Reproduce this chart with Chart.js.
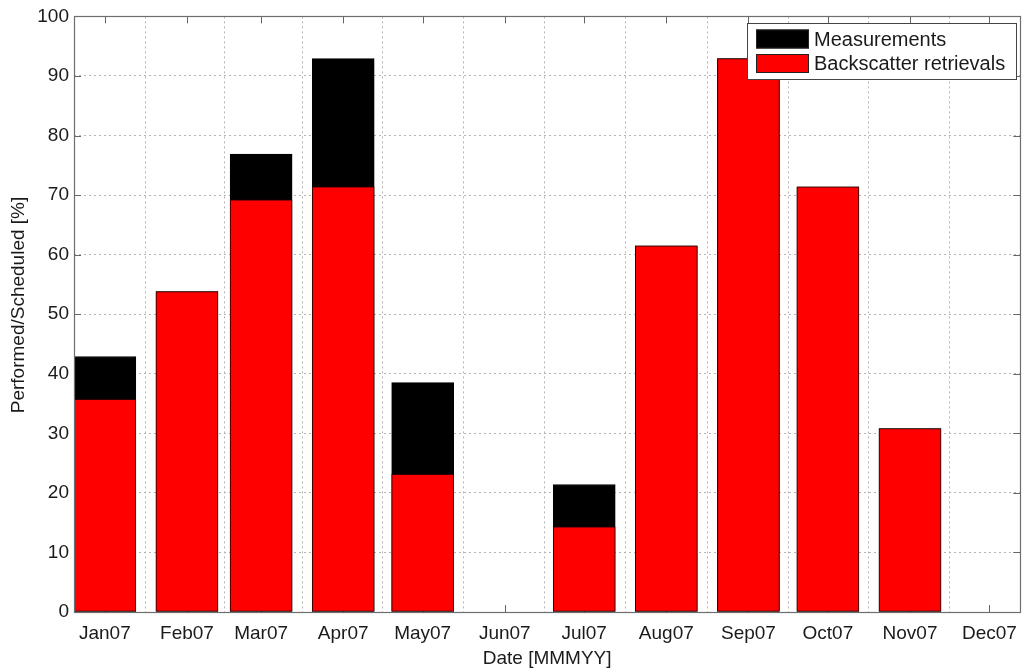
<!DOCTYPE html>
<html>
<head>
<meta charset="utf-8">
<script src="https://cdn.jsdelivr.net/npm/chart.js@4.4.1/dist/chart.umd.min.js"></script>
<style>
  html, body { margin: 0; padding: 0; background: #fff; }
  #wrap { width: 1027px; height: 670px; }
</style>
</head>
<body>
<div id="wrap"><canvas id="perfChart" width="1027" height="670"></canvas></div>
<script>
// ===== DATA =====
const months = ['Jan07', 'Feb07', 'Mar07', 'Apr07', 'May07', 'Jun07', 'Jul07', 'Aug07', 'Sep07', 'Oct07', 'Nov07', 'Dec07'];
// day of year of the first of each month (the date axis is linear in days)
const monthDays = [0, 31, 59, 90, 120, 151, 181, 212, 243, 273, 304, 334];
const measurements = [42.9, 53.8, 76.9, 92.9, 38.5, 0, 21.4, 61.5, 92.9, 71.4, 30.8, 0];
const backscatter = [35.7, 53.8, 69.2, 71.4, 23.1, 0, 14.3, 61.5, 92.9, 71.4, 30.8, 0];
const yTicks = [0, 10, 20, 30, 40, 50, 60, 70, 80, 90, 100];

const FONT = "'Liberation Sans', Arial, sans-serif";
const TXT = '#1a1a1a';
const Y_TITLE = 'Performed/Scheduled [%]';
const CLEAR = 'rgba(0,0,0,0)';

const toPoints = vals => vals.map((v, i) => ({ x: monthDays[i], y: v }));
// zero-height bars draw nothing
const isZero = ctx => ctx.type === 'data' && ctx.parsed && ctx.parsed.y === 0;

// ===== FRAME, INWARD TICKS, LEGEND =====
const matlabAxes = {
  id: 'matlabAxes',
  beforeDatasetsDraw(chart) {
    const { ctx, chartArea: a, scales: { x, y } } = chart;
    ctx.save();
    ctx.strokeStyle = '#666';
    ctx.lineWidth = 1;
    ctx.beginPath();
    monthDays.forEach(d => {
      const px = Math.round(x.getPixelForValue(d)) + 0.5;
      ctx.moveTo(px, a.bottom); ctx.lineTo(px, a.bottom - 7);
      ctx.moveTo(px, a.top); ctx.lineTo(px, a.top + 7);
    });
    yTicks.forEach(v => {
      const py = Math.round(y.getPixelForValue(v)) + 0.5;
      ctx.moveTo(a.left, py); ctx.lineTo(a.left + 7, py);
      ctx.moveTo(a.right, py); ctx.lineTo(a.right - 7, py);
    });
    ctx.stroke();
    ctx.restore();
  },
  afterDatasetsDraw(chart) {
    const { ctx, chartArea: a } = chart;
    ctx.save();
    ctx.strokeStyle = '#6e6e6e';
    ctx.lineWidth = 1.2;
    ctx.strokeRect(Math.round(a.left) + 0.5, Math.round(a.top) + 0.5,
      Math.round(a.right - a.left), Math.round(a.bottom - a.top));
    ctx.restore();
  },
  afterDraw(chart) {
    const { ctx } = chart;
    const ds = chart.data.datasets;

    // y axis title
    ctx.save();
    ctx.translate(19, 305);
    ctx.rotate(-Math.PI / 2);
    ctx.font = '19px ' + FONT;
    ctx.fillStyle = TXT;
    ctx.textAlign = 'center';
    ctx.textBaseline = 'middle';
    ctx.fillText(Y_TITLE, 0, 0);
    ctx.restore();

    // legend
    const bx = 747, by = 23, bwid = 269, bh = 56;
    ctx.save();
    ctx.fillStyle = '#fff';
    ctx.fillRect(bx, by, bwid, bh);
    ctx.strokeStyle = '#444';
    ctx.lineWidth = 1;
    ctx.strokeRect(bx + 0.5, by + 0.5, bwid, bh);
    ctx.font = '20px ' + FONT;
    ctx.textBaseline = 'middle';
    ds.forEach((d, i) => {
      const cy = by + 16 + i * 24.5;
      ctx.fillStyle = d.legendColor;
      ctx.fillRect(bx + 9, cy - 9.5, 53, 19);
      ctx.strokeStyle = '#222';
      ctx.strokeRect(bx + 9.5, cy - 9, 52, 18);
      ctx.fillStyle = TXT;
      ctx.fillText(d.label, bx + 67, cy + 1);
    });
    ctx.restore();
  }
};

// ===== CHART =====
const perfCtx = document.getElementById('perfChart').getContext('2d');
new Chart(perfCtx, {
  type: 'bar',
  data: {
    datasets: [{
      label: 'Measurements',
      legendColor: '#000000',
      data: toPoints(measurements),
      backgroundColor: ctx => isZero(ctx) ? CLEAR : '#000000',
      borderColor: ctx => isZero(ctx) ? CLEAR : '#000000',
      borderWidth: ctx => isZero(ctx) ? 0 : 1,
      borderSkipped: false,
      order: 1
    }, {
      label: 'Backscatter retrievals',
      legendColor: '#ff0000',
      data: toPoints(backscatter),
      backgroundColor: ctx => isZero(ctx) ? CLEAR : '#ff0000',
      borderColor: ctx => isZero(ctx) ? CLEAR : '#300000',
      borderWidth: ctx => isZero(ctx) ? 0 : 1,
      borderSkipped: false,
      order: 0
    }]
  },
  options: {
    responsive: false,
    animation: false,
    devicePixelRatio: 1,
    layout: { padding: { top: 14, right: 3, left: 0, bottom: 0 } },
    datasets: { bar: { grouped: false, barThickness: 62 } },
    plugins: {
      legend: { display: false },
      tooltip: { enabled: false }
    },
    scales: {
      x: {
        type: 'linear',
        min: -11.65,
        max: 345.65,
        offset: false,
        afterBuildTicks: s => { s.ticks = monthDays.map(v => ({ value: v })); },
        afterFit: s => { s.height = 58; },
        grid: { color: '#b4b4b4', lineWidth: 1, drawTicks: false },
        border: { display: false, dash: [2, 3] },
        ticks: {
          autoSkip: false,
          maxRotation: 0,
          padding: 10,
          color: TXT,
          font: { family: FONT, size: 19 },
          callback: v => months[monthDays.indexOf(v)]
        },
        title: {
          display: true,
          text: 'Date [MMMYY]',
          color: TXT,
          font: { family: FONT, size: 19 },
          padding: { top: 0, bottom: 0 }
        }
      },
      y: {
        min: 0,
        max: 100,
        afterBuildTicks: s => { s.ticks = yTicks.map(v => ({ value: v })); },
        afterFit: s => { s.width = 74; },
        grid: { color: '#b4b4b4', lineWidth: 1, drawTicks: false },
        border: { display: false, dash: [2, 3] },
        ticks: {
          padding: 5,
          color: TXT,
          font: { family: FONT, size: 19 }
        }
      }
    }
  },
  plugins: [matlabAxes]
});
</script>
</body>
</html>
